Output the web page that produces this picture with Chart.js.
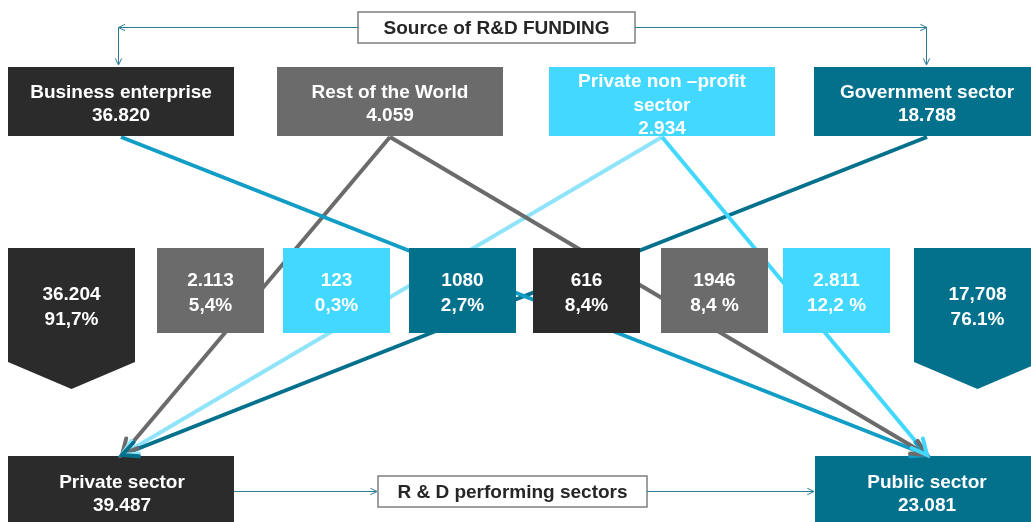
<!DOCTYPE html>
<html>
<head>
<meta charset="utf-8">
<title>Source of R&D funding</title>
<script src="https://cdn.jsdelivr.net/npm/chart.js@4.4.0/dist/chart.umd.min.js"></script>
<style>
  html, body { margin: 0; padding: 0; background: #fff; }
  #wrap { width: 1031px; height: 522px; position: relative; }
</style>
</head>
<body>
<div id="wrap"><canvas id="flowChart"></canvas></div>
<script>
// --- Data ---
const headerTitle = 'Source of R&D FUNDING';
const footerTitle = 'R & D performing sectors';

const sourceNames = ['Business enterprise', 'Rest of the World', 'Private non –profit\nsector', 'Government sector'];
const sourceTotals = ['36.820', '4.059', '2.934', '18.788'];

const performerNames = ['Private sector', 'Public sector'];
const performerTotals = ['39.487', '23.081'];

// funds going to each performing sector, per source (same order as sourceNames)
const toPrivateValues = ['36.204', '2.113', '123', '1080'];
const toPrivateShares = ['91,7%', '5,4%', '0,3%', '2,7%'];
const toPublicValues = ['616', '1946', '2.811', '17,708'];
const toPublicShares = ['8,4%', '8,4 %', '12,2 %', '76.1%'];

// flows drawn as arrows: [source index, performer index]
const flowLinks = [[1, 0], [2, 0], [3, 0], [0, 1], [1, 1], [2, 1]];

// --- Layout & styles (canvas units) ---
const W = 1031, H = 522;
const sourceColors = ['#2b2b2b', '#6b6b6b', '#42d8ff', '#03708c'];
const linkColors = ['#6b6b6b', '#8fe4fa', '#03708c', '#129dc6', '#6b6b6b', '#42d8ff'];
const connectorColor = '#2b7d96';
const font = 'bold 19px "Liberation Sans", Arial, sans-serif';

const sourceRow = { y0: 67, y1: 136 };
const sourceX = [[8, 234], [277, 503], [549, 775], [814, 1040]];
const performerRow = { y0: 456, y1: 540 };
const performerX = [[8, 234], [815, 1041]];
const midRow = { y0: 248, y1: 333, tip: 389, shoulder: 362 };
const privateMidX = [[8, 135], [157, 264], [283, 390], [409, 516]];
const publicMidX = [[533, 640], [661, 768], [783, 890], [914, 1041]];
const arrowTipY = 455;
const lineStartY = 137;

function centerOf(r) { return (r[0] + r[1]) / 2; }
function performerAnchor(i) { return i === 0 ? 122 : 927; }

// --- Datasets: one straight line per flow ---
const flowDatasets = flowLinks.map((lnk, i) => ({
  label: sourceNames[lnk[0]] + ' → ' + performerNames[lnk[1]],
  data: [
    { x: centerOf(sourceX[lnk[0]]), y: lineStartY },
    { x: performerAnchor(lnk[1]), y: arrowTipY }
  ],
  showLine: true,
  borderColor: linkColors[i],
  borderWidth: 4,
  pointRadius: 0,
  order: flowLinks.length - i
}));

// --- Drawing helpers ---
function textLines(ctx, lines, cx, cy, gap, color) {
  ctx.save();
  ctx.font = font;
  ctx.fillStyle = color;
  ctx.textAlign = 'center';
  ctx.textBaseline = 'middle';
  const start = cy - (lines.length - 1) * gap / 2;
  lines.forEach((t, k) => ctx.fillText(t, cx, start + k * gap));
  ctx.restore();
}

function arrowHead(ctx, fromX, fromY, toX, toY, len, width, color) {
  const a = Math.atan2(toY - fromY, toX - fromX);
  ctx.save();
  ctx.strokeStyle = color;
  ctx.lineWidth = width;
  ctx.lineCap = 'round';
  ctx.lineJoin = 'miter';
  ctx.beginPath();
  ctx.moveTo(toX - len * Math.cos(a - 0.45), toY - len * Math.sin(a - 0.45));
  ctx.lineTo(toX, toY);
  ctx.lineTo(toX - len * Math.cos(a + 0.45), toY - len * Math.sin(a + 0.45));
  ctx.stroke();
  ctx.restore();
}

const flowDiagram = {
  id: 'flowDiagram',
  afterDatasetsDraw(chart) {
    const ctx = chart.ctx;
    const sx = chart.scales.x, sy = chart.scales.y;
    const px = v => sx.getPixelForValue(v);
    const py = v => sy.getPixelForValue(v);

    const rect = (r, y0, y1, color) => {
      ctx.fillStyle = color;
      ctx.fillRect(px(r[0]), py(y0), px(r[1]) - px(r[0]), py(y1) - py(y0));
    };
    const chevron = (r, color) => {
      ctx.fillStyle = color;
      ctx.beginPath();
      ctx.moveTo(px(r[0]), py(midRow.y0));
      ctx.lineTo(px(r[1]), py(midRow.y0));
      ctx.lineTo(px(r[1]), py(midRow.shoulder));
      ctx.lineTo(px(centerOf(r)), py(midRow.tip));
      ctx.lineTo(px(r[0]), py(midRow.shoulder));
      ctx.closePath();
      ctx.fill();
    };

    // middle row: flows to private (left) and public (right) sectors
    privateMidX.forEach((r, i) => {
      if (i === 0) {
        chevron(r, sourceColors[0]);
        textLines(ctx, [toPrivateValues[i], toPrivateShares[i]], px(centerOf(r)), py(307.5), 25, '#fff');
      } else {
        rect(r, midRow.y0, midRow.y1, sourceColors[i]);
        textLines(ctx, [toPrivateValues[i], toPrivateShares[i]], px(centerOf(r)), py(293), 25, '#fff');
      }
    });
    publicMidX.forEach((r, i) => {
      if (i === 3) {
        chevron(r, sourceColors[3]);
        textLines(ctx, [toPublicValues[i], toPublicShares[i]], px(centerOf(r)), py(307.5), 25, '#fff');
      } else {
        rect(r, midRow.y0, midRow.y1, sourceColors[i]);
        textLines(ctx, [toPublicValues[i], toPublicShares[i]], px(centerOf(r)), py(293), 25, '#fff');
      }
    });

    // funding sources
    sourceX.forEach((r, i) => {
      rect(r, sourceRow.y0, sourceRow.y1, sourceColors[i]);
      const lines = sourceNames[i].split('\n').concat([sourceTotals[i]]);
      const cx = i === 3 ? 927 : centerOf(r);
      textLines(ctx, lines, px(cx), py(lines.length > 2 ? 105.5 : 104.5), lines.length > 2 ? 23.5 : 23, '#fff');
    });

    // performing sectors
    performerX.forEach((r, i) => {
      rect(r, performerRow.y0, performerRow.y1, i === 0 ? sourceColors[0] : sourceColors[3]);
      textLines(ctx, [performerNames[i], performerTotals[i]], px(performerAnchor(i)), py(494.5), 23, '#fff');
    });

    // arrow heads on every flow
    chart.data.datasets.forEach(ds => {
      const [a, b] = ds.data;
      arrowHead(ctx, px(a.x), py(a.y), px(b.x), py(b.y), 17, 4, ds.borderColor);
    });

    // header & footer labels with thin connectors
    const labelBox = (x0, x1, y0, y1, txt) => {
      ctx.save();
      ctx.fillStyle = '#fff';
      ctx.fillRect(px(x0), py(y0), px(x1) - px(x0), py(y1) - py(y0));
      ctx.strokeStyle = '#7f7f7f';
      ctx.lineWidth = 1.5;
      ctx.strokeRect(px(x0), py(y0), px(x1) - px(x0), py(y1) - py(y0));
      ctx.restore();
      textLines(ctx, [txt], px((x0 + x1) / 2), py((y0 + y1) / 2 + 1.5), 0, '#262626');
    };
    const thin = pts => {
      ctx.save();
      ctx.strokeStyle = connectorColor;
      ctx.lineWidth = 1;
      ctx.beginPath();
      pts.forEach((p, k) => k ? ctx.lineTo(px(p[0]), py(p[1])) : ctx.moveTo(px(p[0]), py(p[1])));
      ctx.stroke();
      ctx.restore();
    };

    labelBox(358, 635, 12, 43, headerTitle);
    thin([[358, 27.5], [118.5, 27.5], [118.5, 65]]);
    arrowHead(ctx, 130, 27.5, 118.5, 27.5, 7, 1, connectorColor);
    arrowHead(ctx, 118.5, 50, 118.5, 65, 7, 1, connectorColor);
    thin([[635, 27.5], [926.5, 27.5], [926.5, 65]]);
    arrowHead(ctx, 915, 27.5, 927, 27.5, 7, 1, connectorColor);
    arrowHead(ctx, 926.5, 50, 926.5, 65, 7, 1, connectorColor);

    labelBox(378, 647, 476, 507, footerTitle);
    thin([[234, 491.5], [377, 491.5]]);
    arrowHead(ctx, 360, 491.5, 377, 491.5, 7, 1, connectorColor);
    thin([[647, 491.5], [814, 491.5]]);
    arrowHead(ctx, 800, 491.5, 814, 491.5, 7, 1, connectorColor);
  }
};

// --- Chart ---
const flowChart = new Chart(document.getElementById('flowChart'), {
  type: 'scatter',
  data: { datasets: flowDatasets },
  options: {
    responsive: true,
    maintainAspectRatio: false,
    animation: false,
    events: [],
    layout: { padding: 0 },
    plugins: { legend: { display: false }, tooltip: { enabled: false } },
    scales: {
      x: { type: 'linear', min: 0, max: W, display: false },
      y: { type: 'linear', min: 0, max: H, reverse: true, display: false }
    }
  },
  plugins: [flowDiagram]
});
</script>
</body>
</html>
